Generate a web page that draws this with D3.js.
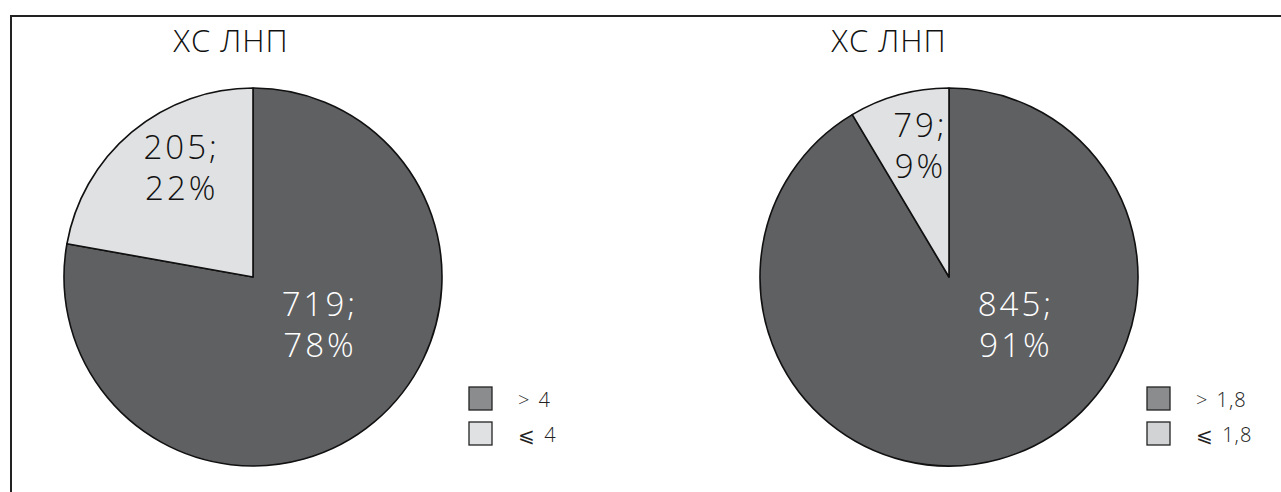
<!DOCTYPE html>
<html>
<head>
<meta charset="utf-8">
<script src="https://cdn.jsdelivr.net/npm/d3@7"></script>
<style>
  html, body { margin: 0; padding: 0; background: #fff; }
  svg { display: block; }
  text { font-family: "Open Sans", "DejaVu Sans", sans-serif; font-weight: 300; }
</style>
</head>
<body>
<svg id="chart" width="1281" height="492"></svg>
<script>
// LDL cholesterol groups, two thresholds
const titles = ["ХС ЛНП", "ХС ЛНП"];
const categoriesA = ["> 4", "⩽ 4"];
const countsA = [719, 205];
const percentsA = [78, 22];
const categoriesB = ["> 1,8", "⩽ 1,8"];
const countsB = [845, 79];
const percentsB = [91, 9];

const sliceColors = ["#5f6062", "#e0e1e3"];
const legendColorsA = ["#8b8c8e", "#e0e1e3"];
const legendColorsB = ["#8b8c8e", "#d2d3d4"];
const labelColors = ["#ffffff", "#111111"];

const svg = d3.select("#chart");

// outer frame
svg.append("path")
  .attr("d", "M11,492 V16 H1281")
  .attr("fill", "none")
  .attr("stroke", "#222")
  .attr("stroke-width", 2);

const panels = [
  { title: titles[0], cats: categoriesA, counts: countsA, pcts: percentsA, legend: legendColorsA,
    cx: 253, cy: 277, titleX: 231, legendX: 469 },
  { title: titles[1], cats: categoriesB, counts: countsB, pcts: percentsB, legend: legendColorsB,
    cx: 949, cy: 277, titleX: 889, legendX: 1147 }
];

const R = 189;
const pie = d3.pie().sort(null).value(d => d);
const arc = d3.arc().innerRadius(0).outerRadius(R);

panels.forEach(p => {
  const g = svg.append("g").attr("transform", `translate(${p.cx},${p.cy})`);
  const arcs = pie(p.counts);

  g.selectAll("path.slice")
    .data(arcs)
    .join("path")
    .attr("class", "slice")
    .attr("d", arc)
    .attr("fill", (d, i) => sliceColors[i])
    .attr("stroke", "#111")
    .attr("stroke-width", 1.6)
    .attr("stroke-linejoin", "round");

  // value labels: large slice placed toward lower right, small slice inside its own wedge
  arcs.forEach((d, i) => {
    let a, r, dy1;
    if (i === 0) { a = 120 * Math.PI / 180; r = 0.40 * R; dy1 = 1; }
    else { a = (d.startAngle + d.endAngle) / 2; r = 0.60 * R; dy1 = -31; }
    const x = r * Math.sin(a) + 1.5, y = -r * Math.cos(a);
    const t = g.append("text")
      .attr("text-anchor", "middle")
      .attr("fill", labelColors[i])
      .style("font-size", "33px")
      .style("letter-spacing", "3px");
    t.append("tspan").attr("x", x).attr("y", y + dy1).text(p.counts[i] + ";");
    t.append("tspan").attr("x", x).attr("y", y + dy1 + 41).text(p.pcts[i] + "%");
  });

  svg.append("text")
    .attr("x", p.titleX).attr("y", 52)
    .attr("text-anchor", "middle")
    .attr("fill", "#111")
    .style("font-size", "31px")
    .style("letter-spacing", "1px")
    .text(p.title);

  const lg = svg.append("g").attr("transform", `translate(${p.legendX},387)`);
  p.cats.forEach((c, i) => {
    lg.append("rect")
      .attr("x", 0).attr("y", i * 35)
      .attr("width", 23).attr("height", 23)
      .attr("fill", p.legend[i])
      .attr("stroke", "#222").attr("stroke-width", 1.3);
    lg.append("text")
      .attr("x", 49).attr("y", i * 35 + 20)
      .attr("fill", "#222")
      .style("font-size", "20px")
      .style("letter-spacing", "1px")
      .style("word-spacing", "2px")
      .text(c);
  });
});
</script>
</body>
</html>
